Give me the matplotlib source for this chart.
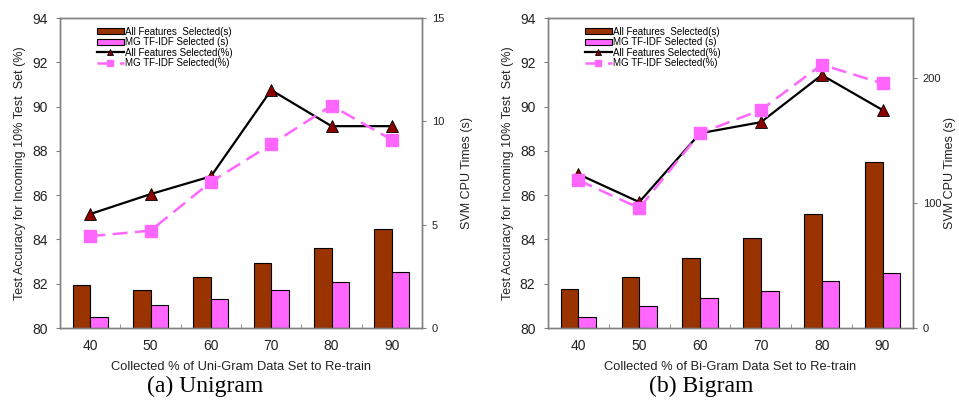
import numpy as np
from matplotlib import pyplot as plt
from matplotlib.ticker import FixedLocator

plt.rcParams['font.family'] = ['Liberation Sans', 'DejaVu Sans']

categories = ['40', '50', '60', '70', '80', '90']

# unigram
uni_all_time = [2.08, 1.84, 2.46, 3.13, 3.87, 4.78]
uni_mg_time = [0.55, 1.10, 1.42, 1.82, 2.23, 2.72]
uni_all_acc = [85.15, 86.05, 86.85, 90.75, 89.12, 89.12]
uni_mg_acc = [84.15, 84.40, 86.60, 88.30, 90.05, 88.50]

# bigram
bi_all_time = [31, 41, 56, 72, 91, 133]
bi_mg_time = [9, 18, 24, 30, 38, 44]
bi_all_acc = [86.95, 85.69, 88.80, 89.30, 91.43, 89.85]
bi_mg_acc = [86.68, 85.42, 88.80, 89.85, 91.90, 91.05]

BROWN = '#993300'
PINK = '#ff66ff'
GRID = '#808080'

fig = plt.figure(figsize=(9.59, 4.03), dpi=100)


def panel(rect, all_t, mg_t, all_a, mg_a, tmax, tticks, xlabel, caption, cap_x, rpad):
    ax = fig.add_axes(rect)
    tw = ax.twinx()
    x = np.arange(len(categories))
    w = 0.29
    b1 = tw.bar(x - w / 2, all_t, w, color=BROWN, edgecolor='black', linewidth=0.8,
                label='All Features  Selected(s)')
    b2 = tw.bar(x + w / 2, mg_t, w, color=PINK, edgecolor='black', linewidth=0.8,
                label='MG TF-IDF Selected (s)')
    l1, = ax.plot(x, all_a, color='black', lw=1.6, marker='^', ms=8,
                  mfc='#8b0000', mec='black', mew=0.6, label='All Features Selected(%)')
    l2, = ax.plot(x, mg_a, color=PINK, lw=1.8, ls=(0, (6, 3)), marker='s', ms=8,
                  mfc=PINK, mec=PINK, label='MG TF-IDF Selected(%)')
    ax.set_zorder(tw.get_zorder() + 1)
    ax.patch.set_visible(False)

    ax.set_xlim(-0.5, len(categories) - 0.5)
    ax.set_ylim(80, 94)
    ax.set_yticks(range(80, 95, 2))
    tw.set_ylim(0, tmax)
    tw.set_yticks(tticks)
    ax.set_xticks(x)
    ax.set_xticklabels(categories)
    ax.xaxis.set_minor_locator(FixedLocator(np.arange(0.5, len(categories) - 1, 1)))
    ax.tick_params(axis='x', which='minor', direction='in', length=3, color=GRID)
    ax.tick_params(axis='x', which='major', length=0, labelsize=10, pad=8, colors='#222222')
    ax.tick_params(axis='y', length=3, color=GRID, labelsize=10, labelcolor='#222222', pad=6)
    tw.tick_params(axis='y', length=3, color=GRID, labelsize=8, labelcolor='#222222', pad=4)
    for a in (ax, tw):
        for s in a.spines.values():
            s.set_color(GRID)
            s.set_linewidth(1.0)

    ax.set_ylabel('Test Accuracy for Incoming 10% Test  Set (%)', fontsize=9, color='#222222', labelpad=4)
    tw.set_ylabel('SVM CPU Times (s)', fontsize=9, color='#222222', labelpad=rpad)
    ax.set_xlabel(xlabel, fontsize=9.3, color='#222222', labelpad=6)

    ax.legend([b1, b2, l1, l2], [h.get_label() for h in (b1, b2, l1, l2)],
              loc='upper left', bbox_to_anchor=(0.09, 0.985), frameon=False,
              fontsize=7, handlelength=2.8, handleheight=0.6, labelspacing=0.05,
              handletextpad=0.15, borderaxespad=0, markerscale=0.6)
    fig.text(rect[0] + rect[2] * cap_x, 0.015, caption, ha='center', va='bottom',
             fontsize=17, family='Liberation Serif')
    return ax


panel([0.0626, 0.186, 0.3775, 0.769], uni_all_time, uni_mg_time, uni_all_acc, uni_mg_acc,
      15, [0, 5, 10, 15], 'Collected % of Uni-Gram Data Set to Re-train', '(a) Unigram', 0.4, 12)
panel([0.5714, 0.186, 0.3806, 0.769], bi_all_time, bi_mg_time, bi_all_acc, bi_mg_acc,
      248, [0, 100, 200], 'Collected % of Bi-Gram Data Set to Re-train', '(b) Bigram', 0.42, 2)

fig.savefig('out.png', dpi=100)
